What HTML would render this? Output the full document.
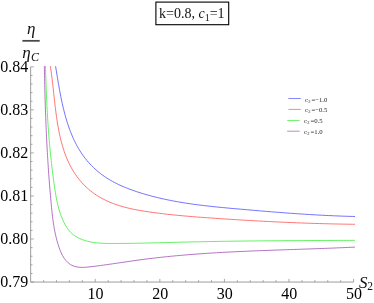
<!DOCTYPE html>
<html><head><meta charset="utf-8"><title>plot</title>
<style>
html,body{margin:0;padding:0;background:#fff;}
body{width:374px;height:303px;overflow:hidden;font-family:"Liberation Serif",serif;}
svg{display:block;position:absolute;left:0;top:0;will-change:transform;}
.t{font-family:"Liberation Serif",serif;font-size:16px;fill:#000;}
.lg{font-family:"Liberation Serif",serif;font-size:6.7px;fill:#333;}
.i{font-family:"Liberation Serif",serif;font-style:italic;fill:#111;}
</style></head><body>
<svg width="374" height="303" viewBox="0 0 374 303">
<g>
<rect x="155.9" y="2.1" width="72.8" height="22.6" fill="#fff" stroke="#000" stroke-width="1.1"/>
<text x="159" y="18" font-family="Liberation Serif" font-size="14" fill="#111">k=0.8, <tspan font-style="italic">c</tspan><tspan dy="2.5" font-size="10">1</tspan><tspan dy="-2.5">=1</tspan></text>
<text x="27" y="34.2" class="i" font-size="17">η</text>
<rect x="22.4" y="39.95" width="17.3" height="1.75" fill="#484848"/>
<text x="22.2" y="58.2" class="i" font-size="17">η</text>
<text x="30.9" y="61.1" class="i" font-size="12">C</text>
<path d="M30.65,66.80 V282.05 H353.60" stroke="#747474" stroke-width="0.7" fill="none"/>
<path d="M43.57,282.05 V280.15 M56.49,282.05 V280.15 M69.40,282.05 V280.15 M82.32,282.05 V280.15 M95.24,282.05 V278.85 M108.16,282.05 V280.15 M121.08,282.05 V280.15 M133.99,282.05 V280.15 M146.91,282.05 V280.15 M159.83,282.05 V278.85 M172.75,282.05 V280.15 M185.67,282.05 V280.15 M198.58,282.05 V280.15 M211.50,282.05 V280.15 M224.42,282.05 V278.85 M237.34,282.05 V280.15 M250.26,282.05 V280.15 M263.17,282.05 V280.15 M276.09,282.05 V280.15 M289.01,282.05 V278.85 M301.93,282.05 V280.15 M314.85,282.05 V280.15 M327.76,282.05 V280.15 M340.68,282.05 V280.15 M353.60,282.05 V278.85 M30.65,282.05 H33.85 M30.65,273.44 H32.55 M30.65,264.83 H32.55 M30.65,256.22 H32.55 M30.65,247.61 H32.55 M30.65,239.00 H33.85 M30.65,230.39 H32.55 M30.65,221.78 H32.55 M30.65,213.17 H32.55 M30.65,204.56 H32.55 M30.65,195.95 H33.85 M30.65,187.34 H32.55 M30.65,178.73 H32.55 M30.65,170.12 H32.55 M30.65,161.51 H32.55 M30.65,152.90 H33.85 M30.65,144.29 H32.55 M30.65,135.68 H32.55 M30.65,127.07 H32.55 M30.65,118.46 H32.55 M30.65,109.85 H33.85 M30.65,101.24 H32.55 M30.65,92.63 H32.55 M30.65,84.02 H32.55 M30.65,75.41 H32.55 M30.65,66.80 H33.85" stroke="#747474" stroke-width="0.6" fill="none"/>
<g fill="none" stroke-width="0.85" stroke-linejoin="round"><path d="M55.59,66.26 L55.95,68.49 L56.32,70.74 L56.69,73.01 L57.06,75.30 L57.44,77.60 L57.82,79.92 L58.21,82.25 L58.61,84.60 L59.02,86.96 L59.44,89.32 L59.88,91.69 L60.33,94.07 L60.79,96.45 L61.27,98.84 L61.77,101.22 L62.29,103.61 L62.82,105.99 L63.38,108.37 L63.97,110.75 L64.58,113.11 L65.21,115.47 L65.87,117.83 L66.56,120.16 L67.28,122.49 L68.03,124.80 L68.82,127.10 L69.64,129.38 L70.49,131.64 L71.38,133.88 L72.31,136.10 L73.27,138.29 L74.28,140.46 L75.33,142.61 L76.42,144.72 L77.55,146.81 L78.73,148.86 L79.96,150.88 L81.24,152.87 L82.57,154.82 L83.94,156.73 L85.37,158.61 L86.86,160.44 L88.39,162.23 L89.98,163.98 L91.61,165.69 L93.29,167.35 L95.02,168.97 L96.79,170.54 L98.61,172.07 L100.46,173.54 L102.36,174.97 L104.30,176.35 L106.27,177.67 L108.28,178.95 L110.32,180.18 L112.40,181.35 L114.50,182.48 L116.63,183.57 L118.79,184.61 L120.97,185.62 L123.17,186.58 L125.39,187.51 L127.63,188.40 L129.88,189.26 L132.15,190.09 L134.43,190.89 L136.71,191.67 L139.00,192.41 L141.30,193.14 L143.60,193.84 L145.90,194.52 L148.21,195.17 L150.53,195.80 L152.84,196.42 L155.17,197.01 L157.49,197.58 L159.82,198.13 L162.16,198.67 L164.49,199.18 L166.83,199.68 L169.18,200.16 L171.52,200.63 L173.87,201.07 L176.23,201.50 L178.58,201.92 L180.94,202.32 L183.30,202.71 L185.66,203.08 L188.03,203.44 L190.40,203.79 L192.77,204.13 L195.14,204.46 L197.51,204.77 L199.89,205.07 L202.27,205.37 L204.64,205.65 L207.02,205.93 L209.40,206.20 L211.79,206.46 L214.17,206.71 L216.55,206.96 L218.94,207.20 L221.32,207.43 L223.71,207.66 L226.10,207.89 L228.48,208.11 L230.87,208.33 L233.25,208.54 L235.64,208.75 L238.03,208.96 L240.41,209.17 L242.80,209.38 L245.18,209.59 L247.57,209.80 L249.95,210.01 L252.34,210.21 L254.72,210.41 L257.10,210.62 L259.48,210.82 L261.87,211.02 L264.25,211.21 L266.63,211.41 L269.02,211.60 L271.40,211.80 L273.78,211.99 L276.16,212.17 L278.54,212.36 L280.93,212.54 L283.31,212.72 L285.69,212.90 L288.08,213.08 L290.46,213.25 L292.84,213.42 L295.23,213.59 L297.61,213.75 L300.00,213.91 L302.38,214.07 L304.77,214.23 L307.15,214.38 L309.54,214.52 L311.93,214.67 L314.31,214.81 L316.70,214.94 L319.09,215.08 L321.48,215.20 L323.87,215.33 L326.26,215.45 L328.65,215.56 L331.05,215.67 L333.44,215.78 L335.84,215.88 L338.23,215.98 L340.63,216.07 L343.03,216.16 L345.42,216.24 L347.82,216.32 L350.23,216.39 L352.63,216.45 L355.03,216.51" stroke="#5858ff"/><path d="M50.33,66.25 L50.71,68.71 L51.08,71.18 L51.42,73.65 L51.75,76.13 L52.07,78.62 L52.37,81.11 L52.66,83.61 L52.94,86.11 L53.22,88.61 L53.49,91.12 L53.77,93.64 L54.04,96.16 L54.31,98.68 L54.59,101.20 L54.87,103.73 L55.16,106.26 L55.47,108.79 L55.78,111.32 L56.11,113.86 L56.46,116.39 L56.82,118.93 L57.21,121.47 L57.62,124.01 L58.05,126.55 L58.51,129.09 L59.00,131.63 L59.52,134.16 L60.08,136.68 L60.67,139.20 L61.30,141.70 L61.97,144.19 L62.68,146.67 L63.44,149.12 L64.24,151.56 L65.10,153.97 L66.00,156.36 L66.96,158.72 L67.98,161.05 L69.05,163.35 L70.19,165.61 L71.38,167.84 L72.64,170.03 L73.97,172.18 L75.35,174.29 L76.80,176.35 L78.31,178.36 L79.87,180.32 L81.50,182.22 L83.19,184.07 L84.93,185.86 L86.74,187.59 L88.60,189.25 L90.52,190.85 L92.50,192.37 L94.53,193.83 L96.61,195.22 L98.73,196.55 L100.90,197.81 L103.12,199.01 L105.37,200.15 L107.66,201.22 L109.98,202.24 L112.33,203.19 L114.71,204.09 L117.11,204.93 L119.54,205.72 L121.98,206.45 L124.45,207.13 L126.93,207.77 L129.42,208.37 L131.93,208.92 L134.44,209.45 L136.97,209.93 L139.50,210.39 L142.04,210.82 L144.58,211.23 L147.12,211.62 L149.66,211.99 L152.20,212.35 L154.74,212.70 L157.28,213.03 L159.81,213.35 L162.34,213.66 L164.88,213.96 L167.41,214.25 L169.94,214.53 L172.46,214.80 L174.99,215.06 L177.52,215.31 L180.04,215.55 L182.57,215.78 L185.09,216.01 L187.62,216.23 L190.14,216.44 L192.67,216.65 L195.19,216.85 L197.71,217.05 L200.24,217.24 L202.76,217.43 L205.29,217.61 L207.81,217.79 L210.34,217.97 L212.86,218.14 L215.39,218.32 L217.92,218.49 L220.45,218.66 L222.98,218.83 L225.51,219.00 L228.04,219.16 L230.57,219.32 L233.10,219.48 L235.64,219.64 L238.17,219.80 L240.71,219.95 L243.24,220.11 L245.78,220.26 L248.31,220.41 L250.85,220.55 L253.39,220.70 L255.92,220.84 L258.46,220.98 L261.00,221.12 L263.54,221.25 L266.08,221.38 L268.62,221.51 L271.16,221.64 L273.70,221.77 L276.24,221.89 L278.78,222.01 L281.32,222.13 L283.86,222.24 L286.40,222.36 L288.95,222.47 L291.49,222.57 L294.03,222.68 L296.57,222.78 L299.11,222.88 L301.65,222.98 L304.20,223.07 L306.74,223.16 L309.28,223.25 L311.82,223.33 L314.36,223.41 L316.90,223.49 L319.45,223.57 L321.99,223.64 L324.53,223.71 L327.07,223.78 L329.61,223.84 L332.15,223.90 L334.69,223.96 L337.23,224.01 L339.77,224.06 L342.31,224.11 L344.84,224.15 L347.38,224.19 L349.92,224.23 L352.46,224.26 L354.99,224.29" stroke="#ff5c5c"/><path d="M45.45,66.02 L45.53,68.93 L45.62,71.84 L45.70,74.74 L45.80,77.64 L45.89,80.54 L45.99,83.43 L46.10,86.31 L46.20,89.20 L46.32,92.07 L46.44,94.95 L46.56,97.82 L46.69,100.69 L46.83,103.56 L46.97,106.43 L47.12,109.29 L47.28,112.15 L47.44,115.01 L47.61,117.87 L47.79,120.72 L47.98,123.58 L48.17,126.43 L48.37,129.28 L48.58,132.14 L48.80,134.99 L49.02,137.84 L49.26,140.69 L49.51,143.54 L49.76,146.40 L50.03,149.25 L50.30,152.10 L50.58,154.96 L50.88,157.82 L51.19,160.67 L51.50,163.53 L51.83,166.39 L52.17,169.26 L52.52,172.12 L52.88,174.99 L53.26,177.86 L53.65,180.73 L54.05,183.61 L54.46,186.49 L54.89,189.37 L55.34,192.25 L55.82,195.13 L56.34,197.99 L56.90,200.84 L57.52,203.67 L58.20,206.47 L58.95,209.24 L59.78,211.98 L60.69,214.69 L61.70,217.35 L62.81,219.96 L64.03,222.52 L65.37,225.03 L66.83,227.47 L68.45,229.81 L70.27,231.99 L72.32,233.94 L74.58,235.67 L77.01,237.18 L79.57,238.48 L82.20,239.60 L84.89,240.53 L87.62,241.30 L90.39,241.92 L93.20,242.41 L96.04,242.79 L98.91,243.06 L101.79,243.25 L104.69,243.37 L107.60,243.44 L110.52,243.46 L113.44,243.47 L116.35,243.46 L119.26,243.45 L122.16,243.43 L125.06,243.40 L127.95,243.37 L130.84,243.33 L133.73,243.29 L136.61,243.24 L139.49,243.19 L142.37,243.13 L145.24,243.07 L148.12,243.01 L150.99,242.94 L153.85,242.87 L156.72,242.80 L159.58,242.73 L162.45,242.66 L165.31,242.58 L168.17,242.51 L171.03,242.43 L173.90,242.36 L176.76,242.28 L179.62,242.21 L182.48,242.14 L185.34,242.07 L188.21,242.00 L191.07,241.93 L193.94,241.87 L196.81,241.81 L199.68,241.75 L202.55,241.69 L205.42,241.63 L208.29,241.58 L211.16,241.52 L214.03,241.47 L216.91,241.43 L219.78,241.38 L222.66,241.33 L225.53,241.29 L228.41,241.25 L231.29,241.21 L234.17,241.17 L237.05,241.13 L239.92,241.10 L242.80,241.06 L245.68,241.03 L248.56,241.00 L251.44,240.97 L254.32,240.94 L257.20,240.91 L260.09,240.88 L262.97,240.86 L265.85,240.83 L268.73,240.81 L271.61,240.78 L274.49,240.76 L277.37,240.74 L280.25,240.72 L283.13,240.70 L286.01,240.68 L288.89,240.67 L291.77,240.65 L294.65,240.63 L297.53,240.61 L300.41,240.60 L303.29,240.58 L306.17,240.57 L309.04,240.55 L311.92,240.54 L314.79,240.53 L317.67,240.51 L320.54,240.50 L323.42,240.48 L326.29,240.47 L329.16,240.46 L332.03,240.44 L334.90,240.43 L337.77,240.42 L340.64,240.40 L343.51,240.39 L346.37,240.38 L349.24,240.36 L352.10,240.35 L354.96,240.33" stroke="#48ee48"/><path d="M44.37,66.15 L44.42,69.21 L44.47,72.27 L44.53,75.33 L44.59,78.39 L44.65,81.46 L44.72,84.53 L44.79,87.60 L44.87,90.67 L44.95,93.74 L45.03,96.82 L45.12,99.89 L45.21,102.97 L45.31,106.05 L45.41,109.13 L45.51,112.21 L45.62,115.29 L45.74,118.37 L45.86,121.45 L45.98,124.54 L46.11,127.62 L46.25,130.70 L46.39,133.78 L46.53,136.87 L46.68,139.95 L46.84,143.03 L47.00,146.11 L47.17,149.19 L47.34,152.27 L47.52,155.35 L47.71,158.43 L47.90,161.51 L48.10,164.58 L48.30,167.66 L48.51,170.73 L48.73,173.80 L48.95,176.87 L49.18,179.94 L49.42,183.00 L49.66,186.07 L49.91,189.13 L50.17,192.19 L50.43,195.24 L50.70,198.30 L50.98,201.35 L51.26,204.39 L51.56,207.44 L51.86,210.48 L52.18,213.52 L52.53,216.56 L52.91,219.59 L53.32,222.62 L53.78,225.65 L54.30,228.68 L54.87,231.71 L55.51,234.74 L56.22,237.76 L57.01,240.79 L57.89,243.82 L58.87,246.84 L59.95,249.85 L61.18,252.80 L62.58,255.63 L64.20,258.29 L66.07,260.73 L68.20,262.87 L70.56,264.62 L73.12,265.90 L75.85,266.74 L78.73,267.21 L81.71,267.37 L84.77,267.30 L87.89,267.06 L91.03,266.72 L94.16,266.34 L97.28,265.95 L100.39,265.54 L103.48,265.12 L106.56,264.69 L109.63,264.25 L112.69,263.81 L115.75,263.36 L118.79,262.91 L121.84,262.46 L124.87,262.01 L127.91,261.56 L130.94,261.12 L133.97,260.69 L137.00,260.26 L140.03,259.85 L143.07,259.44 L146.10,259.05 L149.14,258.67 L152.18,258.30 L155.23,257.94 L158.27,257.59 L161.32,257.26 L164.37,256.93 L167.43,256.62 L170.48,256.31 L173.54,256.01 L176.60,255.73 L179.66,255.45 L182.72,255.18 L185.78,254.92 L188.85,254.67 L191.91,254.43 L194.98,254.19 L198.05,253.96 L201.12,253.75 L204.19,253.53 L207.27,253.33 L210.34,253.13 L213.42,252.94 L216.49,252.75 L219.57,252.57 L222.65,252.40 L225.73,252.23 L228.81,252.07 L231.89,251.91 L234.97,251.76 L238.05,251.61 L241.14,251.47 L244.22,251.33 L247.30,251.20 L250.38,251.07 L253.47,250.94 L256.55,250.81 L259.64,250.69 L262.72,250.57 L265.80,250.46 L268.89,250.34 L271.97,250.23 L275.05,250.12 L278.14,250.01 L281.22,249.90 L284.30,249.80 L287.38,249.69 L290.47,249.59 L293.55,249.48 L296.63,249.38 L299.71,249.27 L302.78,249.17 L305.86,249.06 L308.94,248.96 L312.01,248.85 L315.09,248.74 L318.16,248.63 L321.23,248.52 L324.30,248.40 L327.37,248.29 L330.44,248.17 L333.51,248.05 L336.57,247.92 L339.64,247.79 L342.70,247.66 L345.76,247.53 L348.82,247.39 L351.88,247.24 L354.93,247.10" stroke="#a858ba"/></g>
<text x="28.3" y="287.45" text-anchor="end" class="t">0.79</text><text x="28.3" y="244.40" text-anchor="end" class="t">0.80</text><text x="28.3" y="201.35" text-anchor="end" class="t">0.81</text><text x="28.3" y="158.30" text-anchor="end" class="t">0.82</text><text x="28.3" y="115.25" text-anchor="end" class="t">0.83</text><text x="28.3" y="72.20" text-anchor="end" class="t">0.84</text><text x="95.59" y="299.1" text-anchor="middle" class="t">10</text><text x="160.18" y="299.1" text-anchor="middle" class="t">20</text><text x="224.77" y="299.1" text-anchor="middle" class="t">30</text><text x="289.36" y="299.1" text-anchor="middle" class="t">40</text><text x="353.95" y="299.1" text-anchor="middle" class="t">50</text>
<text x="359" y="288.4" class="i" font-size="17">S</text>
<text x="367.3" y="289.8" font-family="Liberation Serif" font-size="11.5" fill="#111">2</text>
<path d="M288.4,98.5 H300.8" stroke="#8686ff" stroke-width="1" fill="none"/><text class="lg" style="fill:#222"><tspan x="305.1" y="101.65">c</tspan><tspan x="308.3" y="102.55" font-size="4.5">2</tspan><tspan x="311.4" y="101.65">=−1.0</tspan></text><path d="M288.4,109.4 H300.8" stroke="#ff8686" stroke-width="1" fill="none"/><text class="lg" style="fill:#222"><tspan x="305.1" y="112.35">c</tspan><tspan x="308.3" y="113.25" font-size="4.5">2</tspan><tspan x="311.4" y="112.35">=−0.5</tspan></text><path d="M287.2,120.45 H299.7" stroke="#70f070" stroke-width="1" fill="none"/><text class="lg" style="fill:#222"><tspan x="304.1" y="123.05">c</tspan><tspan x="307.3" y="123.95" font-size="4.5">2</tspan><tspan x="310.4" y="123.05">=0.5</tspan></text><path d="M287.2,131.2 H299.7" stroke="#c088cc" stroke-width="1" fill="none"/><text class="lg" style="fill:#222"><tspan x="304.1" y="133.75">c</tspan><tspan x="307.3" y="134.65" font-size="4.5">2</tspan><tspan x="310.4" y="133.75">=1.0</tspan></text>
</g>
</svg>
</body></html>
